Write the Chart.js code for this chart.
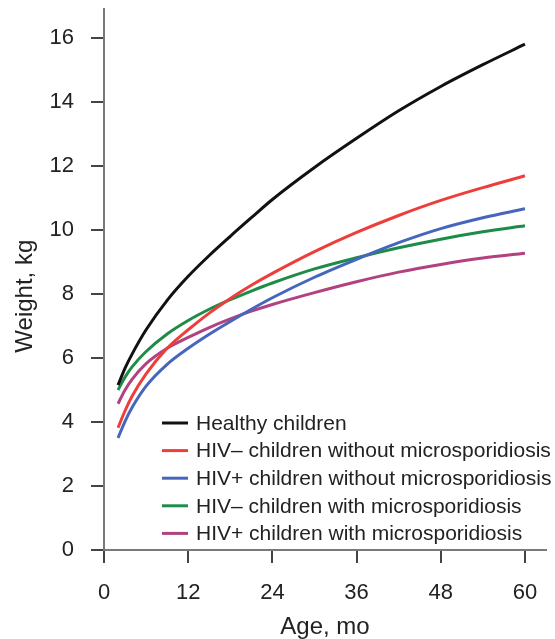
<!DOCTYPE html>
<html>
<head>
<meta charset="utf-8">
<script src="https://cdn.jsdelivr.net/npm/chart.js@4"></script>
<style>
  body { margin: 0; background: #fff; }
  #wrap { width: 555px; height: 639px; position: relative; }
</style>
</head>
<body>
<div id="wrap"><canvas id="weightChart"></canvas></div>
<script>
const ages = [2, 3, 4, 6, 9, 12, 15, 18, 21, 24, 30, 36, 42, 48, 54, 60];

const healthy      = [5.15, 5.68, 6.12, 6.88, 7.8, 8.55, 9.2, 9.8, 10.38, 10.95, 11.95, 12.86, 13.72, 14.48, 15.16, 15.8];
const hivNegNoMs   = [3.82, 4.35, 4.8, 5.5, 6.3, 6.88, 7.4, 7.86, 8.27, 8.64, 9.32, 9.92, 10.45, 10.92, 11.32, 11.69];
const hivPosNoMs   = [3.5, 4.02, 4.45, 5.12, 5.8, 6.3, 6.74, 7.14, 7.52, 7.88, 8.52, 9.08, 9.6, 10.04, 10.38, 10.66];
const hivNegMs     = [5.0, 5.4, 5.72, 6.2, 6.75, 7.17, 7.52, 7.82, 8.09, 8.34, 8.78, 9.13, 9.44, 9.71, 9.94, 10.13];
const hivPosMs     = [4.57, 5.0, 5.33, 5.82, 6.3, 6.64, 6.95, 7.22, 7.46, 7.67, 8.04, 8.38, 8.68, 8.92, 9.12, 9.27];

const seriesNames = [
    'Healthy children',
    'HIV\u2013 children without microsporidiosis',
    'HIV+ children without microsporidiosis',
    'HIV\u2013 children with microsporidiosis',
    'HIV+ children with microsporidiosis'
];
const seriesColors = ['#111111', '#ec3f3b', '#4666bd', '#1e8c48', '#b2417f'];

const xTicks = [0, 12, 24, 36, 48, 60];
const yTicks = [0, 2, 4, 6, 8, 10, 12, 14, 16];

const allSeries = [healthy, hivNegNoMs, hivPosNoMs, hivNegMs, hivPosMs];

// legend drawn inside the plot, bottom right
const innerLegend = {
    id: 'innerLegend',
    afterDraw(chart) {
        const ctx = chart.ctx;
        ctx.save();
        ctx.font = '21px "Liberation Sans", Arial, sans-serif';
        ctx.textBaseline = 'middle';
        chart.data.datasets.forEach((ds, i) => {
            const y = 423 + i * 27.6;
            ctx.strokeStyle = ds.borderColor;
            ctx.lineWidth = 3;
            ctx.beginPath();
            ctx.moveTo(162, y);
            ctx.lineTo(188, y);
            ctx.stroke();
            ctx.fillStyle = '#222';
            ctx.fillText(ds.label, 196, y + 1);
        });
        ctx.restore();
    }
};

const ctx = document.getElementById('weightChart').getContext('2d');
const chart = new Chart(ctx, {
    type: 'line',
    data: {
        datasets: allSeries.map((vals, i) => ({
            label: seriesNames[i],
            data: vals.map((v, j) => ({ x: ages[j], y: v })),
            borderColor: seriesColors[i],
            borderWidth: 3,
            pointRadius: 0,
            fill: false,
            cubicInterpolationMode: 'monotone'
        }))
    },
    options: {
        responsive: true,
        maintainAspectRatio: false,
        animation: false,
        layout: { padding: { top: 9, right: 9, bottom: 0, left: 0 } },
        plugins: {
            legend: { display: false },
            tooltip: { enabled: false }
        },
        scales: {
            x: {
                type: 'linear',
                min: 0,
                max: 63,
                afterBuildTicks: axis => { axis.ticks = xTicks.map(v => ({ value: v })); },
                afterFit: axis => { axis.height = 89; axis.paddingLeft = 0; axis.paddingRight = 0; },
                grid: { drawOnChartArea: false, tickLength: 13, color: '#444', lineWidth: 2 },
                border: { color: '#7a7a7a', width: 2 },
                ticks: {
                    padding: 17,
                    color: '#222',
                    font: { size: 22, family: '"Liberation Sans", Arial, sans-serif' }
                },
                title: {
                    display: true,
                    text: 'Age, mo',
                    color: '#222',
                    padding: { top: 0, bottom: 0 },
                    font: { size: 24, lineHeight: 1, family: '"Liberation Sans", Arial, sans-serif' }
                }
            },
            y: {
                min: 0,
                max: 16.9,
                afterBuildTicks: axis => { axis.ticks = yTicks.map(v => ({ value: v })); },
                afterFit: axis => { axis.width = 104; axis.paddingTop = 0; axis.paddingBottom = 0; },
                grid: { drawOnChartArea: false, tickLength: 13, color: '#444', lineWidth: 2 },
                border: { color: '#7a7a7a', width: 2 },
                ticks: {
                    padding: 17,
                    color: '#222',
                    font: { size: 22, family: '"Liberation Sans", Arial, sans-serif' }
                },
                title: {
                    display: true,
                    // trailing spaces push the title a little lower, as in the original
                    text: 'Weight, kg\u00a0\u00a0\u00a0\u00a0\u00a0',
                    color: '#222',
                    padding: { top: 13, bottom: 0 },
                    font: { size: 24, lineHeight: 1, family: '"Liberation Sans", Arial, sans-serif' }
                }
            }
        }
    },
    plugins: [innerLegend]
});
</script>
</body>
</html>
